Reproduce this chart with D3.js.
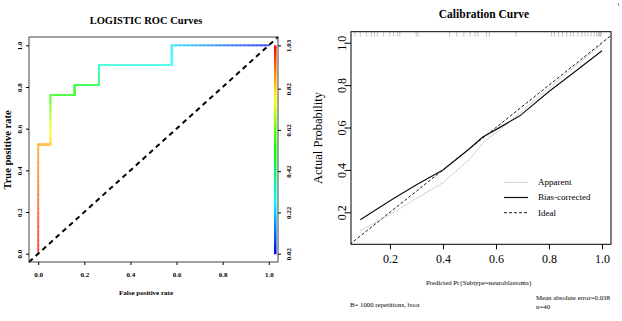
<!DOCTYPE html>
<html><head><meta charset="utf-8">
<script src="https://cdn.jsdelivr.net/npm/d3@7"></script>
<style>body{margin:0;background:#fff}svg{display:block}text{font-family:"Liberation Serif","Times New Roman",serif}</style>
</head><body>
<script>
// ---- ROC data ----
const rocFPR = [0, 0, 0.053, 0.053, 0.158, 0.158, 0.263, 0.263, 0.579, 0.579, 1.0];
const rocTPR = [0, 0.524, 0.524, 0.762, 0.762, 0.810, 0.810, 0.905, 0.905, 1.0, 1.0];
const rocCut = [1.03, 0.88, 0.85, 0.56, 0.53, 0.51, 0.48, 0.33, 0.29, 0.24, 0.02];
const rocTicks = [0, 0.2, 0.4, 0.6, 0.8, 1.0];
const cutTicks = [0.02, 0.22, 0.42, 0.62, 0.82, 1.03];
// ---- Calibration data ----
const apparentX = [0.088, 0.2, 0.3, 0.4, 0.5, 0.56, 0.6, 0.7, 0.8, 0.9, 1.0];
const apparentY = [0.113, 0.19, 0.265, 0.34, 0.45, 0.54, 0.575, 0.68, 0.785, 0.89, 0.995];
const biasX = [0.088, 0.2, 0.3, 0.4, 0.5, 0.55, 0.6, 0.69, 0.8, 0.9, 1.0];
const biasY = [0.165, 0.255, 0.33, 0.40, 0.50, 0.555, 0.59, 0.655, 0.77, 0.865, 0.962];
const rugPred = [0.068,0.088,0.111,0.130,0.141,0.153,0.176,0.199,0.214,0.229,0.237,0.299,0.306,0.425,0.452,0.479,0.502,0.521,0.532,0.564,0.575,0.675,0.809,0.820,0.836,0.851,0.867,0.882,0.893,0.909,0.924,0.936,0.947,0.959,0.970,0.980,0.986,0.990,0.994,0.997];
const calXTicks = [0.2, 0.4, 0.6, 0.8, 1.0];
const calYTicks = [0.2, 0.4, 0.6, 0.8, 1.0];
const legendItems = ["Apparent", "Bias-corrected", "Ideal"];

const W = 622, H = 321;
const svg = d3.select("body").append("svg").attr("width", W).attr("height", H);

// ================= LEFT: ROC =================
const xL = d3.scaleLinear().domain([-0.04, 1.04]).range([29, 278]);
const yL = d3.scaleLinear().domain([-0.04, 1.04]).range([262, 37]);
const cScale = d3.scaleLinear().domain([0.02, 1.03]).range([yL(0), yL(1)]);
const colorOf = c => { const h = (1 - (c - 0.02) / 1.01) * 240; return d3.hsl(h, 1, 0.5).toString(); };
const softColor = c => d3.interpolateRgb(colorOf(c), "#ffffff")(0.28);

const L = svg.append("g");
L.append("text").attr("x", 146).attr("y", 24).attr("text-anchor", "middle")
  .attr("font-weight", "bold").attr("font-size", 10.5).text("LOGISTIC ROC Curves");

// colorbar
const cbSteps = d3.range(0, 101);
L.selectAll("rect.cb").data(cbSteps).enter().append("rect")
  .attr("x", 274).attr("width", 2.5)
  .attr("y", i => cScale(0.02 + (i + 1) * 1.01 / 101))
  .attr("height", i => cScale(0.02 + i * 1.01 / 101) - cScale(0.02 + (i + 1) * 1.01 / 101) + 0.6)
  .attr("fill", i => colorOf(0.02 + (i + 0.5) * 1.01 / 101));

// ROC curve segments colored by cutoff
const N = 24;
for (let s = 0; s < rocFPR.length - 1; s++) {
  for (let k = 0; k < N; k++) {
    const t0 = k / N, t1 = (k + 1) / N;
    const xa = rocFPR[s] + (rocFPR[s + 1] - rocFPR[s]) * t0, xb = rocFPR[s] + (rocFPR[s + 1] - rocFPR[s]) * t1;
    const ya = rocTPR[s] + (rocTPR[s + 1] - rocTPR[s]) * t0, yb = rocTPR[s] + (rocTPR[s + 1] - rocTPR[s]) * t1;
    const cm = rocCut[s] + (rocCut[s + 1] - rocCut[s]) * (t0 + t1) / 2;
    L.append("line").attr("x1", xL(xa)).attr("y1", yL(ya)).attr("x2", xL(xb)).attr("y2", yL(yb))
      .attr("stroke", softColor(cm)).attr("stroke-width", 1.8).attr("stroke-linecap", "square");
  }
}

// diagonal
L.append("line").attr("x1", xL(-0.04)).attr("y1", yL(-0.04)).attr("x2", xL(1.04)).attr("y2", yL(1.04))
  .attr("stroke", "#000").attr("stroke-width", 2).attr("stroke-dasharray", "5,4");

// box
L.append("rect").attr("x", 29).attr("y", 37).attr("width", 249).attr("height", 225)
  .attr("fill", "none").attr("stroke", "#444").attr("stroke-width", 1);

// axes
const axL = L.append("g").attr("transform", "translate(29,0)")
  .call(d3.axisLeft(yL).tickValues(rocTicks).tickFormat(d3.format(".1f")).tickSize(3));
axL.select(".domain").remove();
axL.selectAll("text").attr("x", 0).attr("y", 0).attr("dy", "0.32em").attr("text-anchor", "middle")
  .attr("transform", "translate(-9,0) rotate(-90)")
  .attr("font-weight", "bold").attr("font-size", 7).attr("font-family", "Liberation Serif");

const axB = L.append("g").attr("transform", "translate(0,262)")
  .call(d3.axisBottom(xL).tickValues(rocTicks).tickFormat(d3.format(".1f")).tickSize(3).tickPadding(7));
axB.select(".domain").remove();
axB.selectAll("text").attr("font-weight", "bold").attr("font-size", 7).attr("font-family", "Liberation Serif");

const axC = L.append("g").attr("transform", "translate(278,0)")
  .call(d3.axisRight(cScale).tickValues(cutTicks).tickFormat(d3.format(".2f")).tickSize(3));
axC.select(".domain").remove();
axC.selectAll("text").attr("x", 0).attr("y", 0).attr("dy", "0.32em").attr("text-anchor", "middle")
  .attr("transform", "translate(11,0) rotate(-90)")
  .attr("font-weight", "bold").attr("font-size", 7).attr("font-family", "Liberation Serif");

L.append("text").attr("x", 146).attr("y", 295).attr("text-anchor", "middle")
  .attr("font-weight", "bold").attr("font-size", 7).text("False positive rate");
L.append("text").attr("transform", "translate(11,150) rotate(-90)").attr("text-anchor", "middle")
  .attr("font-weight", "bold").attr("font-size", 10.5).text("True positive rate");

// ================= RIGHT: Calibration =================
const xR = d3.scaleLinear().domain([0.053, 1.034]).range([351, 611]);
const yR = d3.scaleLinear().domain([0.049, 1.052]).range([244.3, 31.7]);
const R = svg.append("g");

R.append("text").attr("x", 484).attr("y", 18).attr("text-anchor", "middle")
  .attr("font-weight", "bold").attr("font-size", 11.5).text("Calibration Curve");

svg.append("defs").append("clipPath").attr("id", "rclip")
  .append("rect").attr("x", 351).attr("y", 31.7).attr("width", 260).attr("height", 212.6);

const line = d3.line().x(d => xR(d[0])).y(d => yR(d[1]));
const plot = R.append("g").attr("clip-path", "url(#rclip)");
plot.append("path").datum([[0.049, 0.049], [1.052, 1.052]]).attr("d", line)
  .attr("fill", "none").attr("stroke", "#000").attr("stroke-width", 0.9).attr("stroke-dasharray", "3,2");
plot.append("path").datum(apparentX.map((x, i) => [x, apparentY[i]])).attr("d", line)
  .attr("fill", "none").attr("stroke", "#aaa").attr("stroke-width", 0.8).attr("stroke-dasharray", "1.5,0.8");
plot.append("path").datum(biasX.map((x, i) => [x, biasY[i]])).attr("d", line)
  .attr("fill", "none").attr("stroke", "#111").attr("stroke-width", 1.2);

// rug
R.selectAll("line.rug").data(rugPred).enter().append("line")
  .attr("x1", d => xR(d)).attr("x2", d => xR(d)).attr("y1", 31.7).attr("y2", 36.5)
  .attr("stroke", "#999").attr("stroke-width", 0.6);

R.append("rect").attr("x", 351).attr("y", 31.7).attr("width", 260).attr("height", 212.6)
  .attr("fill", "none").attr("stroke", "#000").attr("stroke-width", 1);

const ayR = R.append("g").attr("transform", "translate(351,0)")
  .call(d3.axisLeft(yR).tickValues(calYTicks).tickFormat(d3.format(".1f")).tickSize(5));
ayR.select(".domain").remove();
ayR.selectAll("text").attr("font-size", 12).attr("font-family", "Liberation Serif")
  .attr("text-anchor", "middle").attr("x", 0).attr("y", 0).attr("dy", "0.35em")
  .attr("transform", "translate(-9,0) rotate(-90)");

const axR = R.append("g").attr("transform", "translate(0,244.3)")
  .call(d3.axisBottom(xR).tickValues(calXTicks).tickFormat(d3.format(".1f")).tickSize(5).tickPadding(5));
axR.select(".domain").remove();
axR.selectAll("text").attr("font-size", 12).attr("font-family", "Liberation Serif");

R.append("text").attr("transform", "translate(322,138) rotate(-90)").attr("text-anchor", "middle")
  .attr("font-size", 12.5).text("Actual Probability");
R.append("text").attr("x", 479).attr("y", 285).attr("text-anchor", "middle")
  .attr("font-size", 6.8).text("Predicted Pr{Subtype=neuroblastoma}");
R.append("text").attr("x", 350).attr("y", 307).attr("font-size", 6.8).text("B= 1000 repetitions, boot");
R.append("text").attr("x", 536).attr("y", 299.5).attr("font-size", 6.8).text("Mean absolute error=0.038");
R.append("text").attr("x", 536).attr("y", 309).attr("font-size", 6.8).text("n=40");

// legend
const lgStyles = [{ s: "#aaa", w: 0.8, d: "1.5,0.8" }, { s: "#111", w: 1.2, d: null }, { s: "#000", w: 0.9, d: "3,2" }];
const lg = R.append("g");
legendItems.forEach((t, i) => {
  const y = 182.3 + i * 15.2;
  lg.append("line").attr("x1", 504).attr("x2", 528).attr("y1", y).attr("y2", y)
    .attr("stroke", lgStyles[i].s).attr("stroke-width", lgStyles[i].w).attr("stroke-dasharray", lgStyles[i].d);
  lg.append("text").attr("x", 538).attr("y", y).attr("dy", "0.32em").attr("font-size", 9).text(t);
});

// small corner mark
svg.append("line").attr("x1", 618).attr("y1", 3).attr("x2", 619).attr("y2", 6).attr("stroke", "#666").attr("stroke-width", 0.8);
</script>
</body></html>
